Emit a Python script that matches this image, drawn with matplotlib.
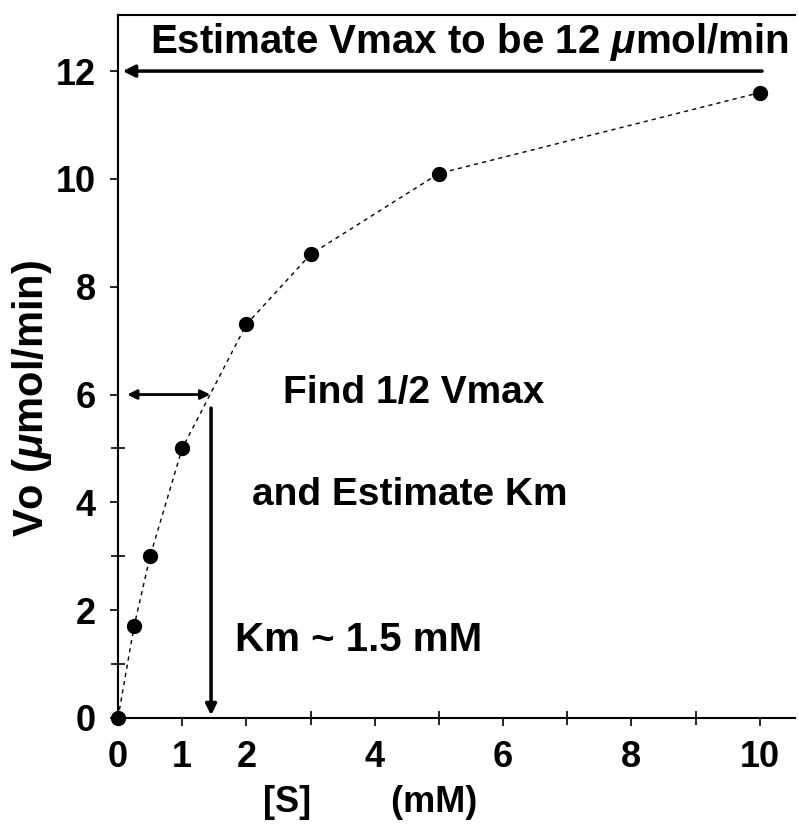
import matplotlib.pyplot as plt
from matplotlib.ticker import FixedLocator

plt.rcParams['font.family'] = ['Liberation Sans', 'DejaVu Sans']
plt.rcParams['font.weight'] = 'bold'
plt.rcParams['mathtext.fontset'] = 'custom'
plt.rcParams['mathtext.rm'] = 'Liberation Sans:bold'
plt.rcParams['mathtext.it'] = 'Liberation Sans:bold:italic'

# substrate concentration (mM) and initial velocity (umol/min)
s_conc = [0, 0.25, 0.5, 1, 2, 3, 5, 10]
v0 = [0, 1.7, 3.0, 5.0, 7.3, 8.6, 10.1, 11.6]

x_ticks = [0, 1, 2, 4, 6, 8, 10]
y_ticks = [0, 2, 4, 6, 8, 10, 12]

vmax = 12
km = 1.45

fig = plt.figure(figsize=(7.99, 8.25), dpi=100)
ax = fig.add_axes([0.1477, 0.1297, 0.995 - 0.1477, 0.9818 - 0.1297])

ax.plot(s_conc, v0, color='black', lw=1, linestyle=(0, (3, 3)),
        marker='o', markersize=10, markerfacecolor='black', clip_on=False, zorder=3)

ax.set_xlim(0, 10.55)
ax.set_ylim(0, 13.04)
ax.spines['right'].set_visible(False)
for sp in ['left', 'bottom', 'top']:
    ax.spines[sp].set_linewidth(1.5)

ax.set_xticks(x_ticks)
ax.set_yticks(y_ticks)
ax.xaxis.set_minor_locator(FixedLocator([3, 5, 7, 9]))
ax.yaxis.set_minor_locator(FixedLocator([1, 3, 5]))
ax.tick_params(axis='both', which='major', direction='out', length=6, width=1.2,
               labelsize=26, pad=10)
ax.tick_params(axis='both', which='minor', direction='inout', length=10, width=1.2)
ax.tick_params(axis='x', top=False)

ax.set_ylabel(r'Vo ($\mu$mol/min)', fontsize=30, fontweight='bold')
ax.yaxis.set_label_coords(-0.095, 0.455)
ax.set_xlabel('[S]        (mM)', fontsize=26, fontweight='bold')
ax.xaxis.set_label_coords(0.372, -0.095)

# Vmax arrow
ax.annotate('', xy=(0.03, vmax), xytext=(10.08, vmax),
            arrowprops=dict(arrowstyle='-|>', color='black', lw=2.5, mutation_scale=18))
ax.text(5.47, 12.54, r'Estimate Vmax to be 12 $\mu$mol/min', fontsize=29,
        fontweight='bold', ha='center', va='center')

# half Vmax arrow
ax.annotate('', xy=(0.1, vmax / 2), xytext=(km + 0.03, vmax / 2),
            arrowprops=dict(arrowstyle='<|-|>', color='black', lw=2, mutation_scale=14))
ax.annotate('', xy=(km, 0), xytext=(km, 5.8),
            arrowprops=dict(arrowstyle='-|>', color='black', lw=2.5, mutation_scale=16))

ax.text(4.6, 6.03, 'Find 1/2 Vmax', fontsize=28, fontweight='bold', ha='center', va='center')
ax.text(4.55, 4.14, 'and Estimate Km', fontsize=28, fontweight='bold', ha='center', va='center')
ax.text(1.82, 1.45, 'Km ~ 1.5 mM', fontsize=29, fontweight='bold', ha='left', va='center')

fig.savefig('out.png', dpi=100)
